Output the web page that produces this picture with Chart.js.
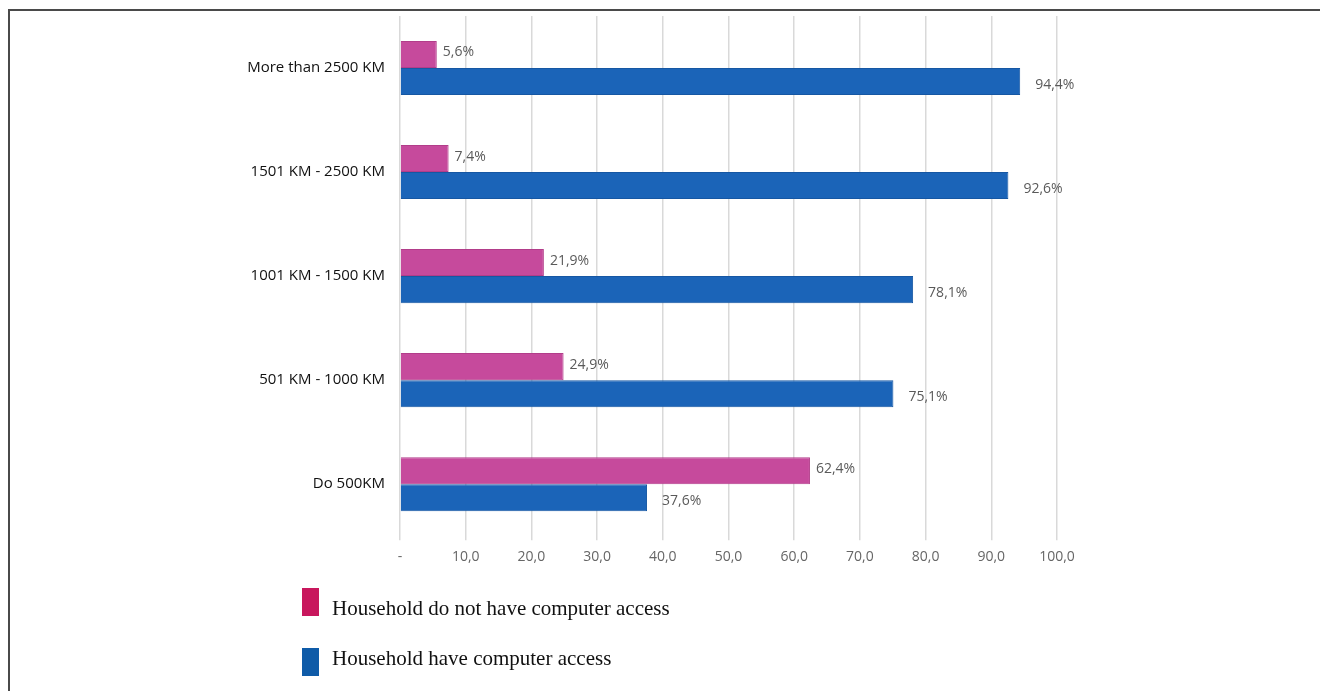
<!DOCTYPE html>
<html>
<head>
<meta charset="utf-8">
<script src="https://cdn.jsdelivr.net/npm/chart.js@4.4.1/dist/chart.umd.min.js"></script>
<style>
  body { margin: 0; background: #fff; }
  #wrap { position: relative; width: 1320px; height: 691px; }
  #frame { position: absolute; left: 8px; top: 9px; right: 0; bottom: 0;
           border-left: 2px solid #4a4a4a; border-top: 2px solid #4a4a4a; }
  .leg { position: absolute; left: 302px; font-family: "Liberation Serif", "Times New Roman", serif;
         font-size: 21px; color: #111; }
  .leg span { position: absolute; left: 0; width: 17px; height: 28px; }
  .leg div { position: absolute; left: 30px; white-space: nowrap; }
</style>
</head>
<body>
<div id="wrap">
  <canvas id="barChart" width="1320" height="691"></canvas>
  <div id="frame"></div>
  <div class="leg" style="top:588px"><span style="background:#c8175d"></span><div style="top:8px">Household do not have computer access</div></div>
  <div class="leg" style="top:648px"><span style="background:#0f5ba8"></span><div style="top:-2px">Household have computer access</div></div>
</div>
<script>
// categories top to bottom
var categories = ['More than 2500 KM', '1501 KM - 2500 KM', '1001 KM - 1500 KM', '501 KM - 1000 KM', 'Do 500KM'];
var noAccess = [5.6, 7.4, 21.9, 24.9, 62.4];   // Household do not have computer access
var hasAccess = [94.4, 92.6, 78.1, 75.1, 37.6]; // Household have computer access
var xTicks = [0, 10, 20, 30, 40, 50, 60, 70, 80, 90, 100];

function fmt(v) {
  return v.toFixed(1).replace('.', ',');
}

// value labels next to each bar
var valueLabels = {
  id: 'valueLabels',
  afterDatasetsDraw: function (chart) {
    var ctx = chart.ctx;
    ctx.save();
    ctx.font = '14px "Open Sans", sans-serif';
    ctx.fillStyle = '#5a5a5a';
    ctx.textAlign = 'left';
    ctx.textBaseline = 'middle';
    chart.data.datasets.forEach(function (ds, i) {
      var meta = chart.getDatasetMeta(i);
      meta.data.forEach(function (bar, j) {
        var off = i === 0 ? 6 : 15;
        var dy = i === 0 ? -2 : 3;
        ctx.fillText(fmt(ds.data[j]) + '%', bar.x + off, bar.y + dy);
      });
    });
    ctx.restore();
  }
};

var ctx = document.getElementById('barChart').getContext('2d');
var chart = new Chart(ctx, {
  type: 'bar',
  data: {
    labels: categories,
    datasets: [{
      label: 'Household do not have computer access',
      data: noAccess,
      backgroundColor: '#c64a9c',
      borderColor: '#b23d8a',
      borderWidth: 1
    }, {
      label: 'Household have computer access',
      data: hasAccess,
      backgroundColor: '#1b64b8',
      borderColor: '#1657a3',
      borderWidth: 1
    }]
  },
  options: {
    indexAxis: 'y',
    responsive: false,
    animation: false,
    layout: { padding: { top: 15, right: 263, bottom: 118, left: 0 } },
    datasets: { bar: { categoryPercentage: 0.52, barPercentage: 1 } },
    scales: {
      x: {
        min: 0,
        max: 100,
        afterBuildTicks: function (scale) {
          scale.ticks = xTicks.map(function (v) { return { value: v }; });
        },
        grid: { color: '#d9d9d9', lineWidth: 1.5, drawTicks: true, tickLength: 4 },
        border: { display: false },
        ticks: {
          padding: 8,
          color: '#666',
          font: { family: '"Open Sans", sans-serif', size: 14 },
          callback: function (v) { return v === 0 ? '-' : fmt(v); }
        }
      },
      y: {
        afterFit: function (scale) { scale.width = 400; },
        grid: { display: false },
        border: { display: false },
        ticks: {
          padding: 7,
          color: '#111',
          font: { family: '"Open Sans", sans-serif', size: 15 }
        }
      }
    },
    plugins: {
      legend: { display: false },
      tooltip: { enabled: false }
    }
  },
  plugins: [valueLabels]
});
</script>
</body>
</html>
